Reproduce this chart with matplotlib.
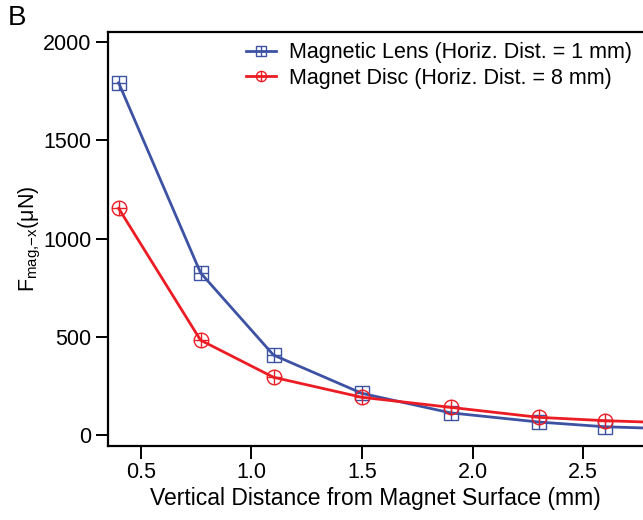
import matplotlib as mpl
import matplotlib.pyplot as plt
from matplotlib.legend_handler import HandlerTuple

mpl.rcParams.update(
    {
        "font.family": "sans-serif",
        "font.sans-serif": ["Liberation Sans", "DejaVu Sans"],
        "font.size": 12,
        "axes.linewidth": 1.6,
        "xtick.major.width": 1.4,
        "ytick.major.width": 1.4,
        "xtick.major.size": 9,
        "ytick.major.size": 9,
    }
)

# vertical distance from magnet surface (mm)
dist = [0.4, 0.77, 1.1, 1.5, 1.9, 2.3, 2.6, 3.0]
# force values (uN); last point lies past the visible range
lens_force = [1793, 826, 407, 212, 113, 66, 42, 28]
disc_force = [1154, 483, 294, 192, 141, 90, 73, 58]

x_ticks = [0.5, 1.0, 1.5, 2.0, 2.5]
y_ticks = [0, 500, 1000, 1500, 2000]

BLUE = "#3d52a3"
RED = "#ec1c24"


def series(ax, y, color, shape):
    line, = ax.plot(dist, y, color=color, linewidth=2.0, marker=shape,
                    markersize=10.5, markerfacecolor="none",
                    markeredgecolor=color, markeredgewidth=1.0)
    cross, = ax.plot(dist, y, linestyle="none", marker="+", markersize=10.5,
                     markeredgecolor=color, markeredgewidth=1.0)
    return line, cross


def main():
    fig = plt.figure(figsize=(6.43, 5.2), dpi=100)
    ax = fig.add_axes([0.168, 0.143, 0.832, 0.796])

    lens = series(ax, lens_force, BLUE, "s")
    disc = series(ax, disc_force, RED, "o")

    ax.set_xlim(0.352, 2.77)
    ax.set_ylim(-54, 2053)
    ax.set_xticks(x_ticks)
    ax.set_yticks(y_ticks)
    ax.spines["right"].set_visible(False)
    ax.tick_params(labelsize=15.5, pad=3)

    ax.set_xlabel("Vertical Distance from Magnet Surface (mm)", fontsize=16.5,
                  labelpad=3)
    ax.set_ylabel(r"F$_{\mathregular{mag{,}{-}x}}$(μN)", fontsize=15.5,
                  labelpad=0)

    ax.legend([lens, disc],
              ["Magnetic Lens (Horiz. Dist. = 1 mm)",
               "Magnet Disc (Horiz. Dist. = 8 mm)"],
              handler_map={tuple: HandlerTuple(ndivide=1, pad=0)},
              loc="upper right", bbox_to_anchor=(1.0, 1.0), frameon=False,
              fontsize=15.5, handlelength=1.4, markerscale=0.7,
              borderaxespad=0.1, labelspacing=0.2, handletextpad=0.6)

    fig.text(0.012, 0.99, "B", fontsize=20, va="top", ha="left")

    fig.savefig("out.png", dpi=100)
    plt.close(fig)


if __name__ == "__main__":
    main()
